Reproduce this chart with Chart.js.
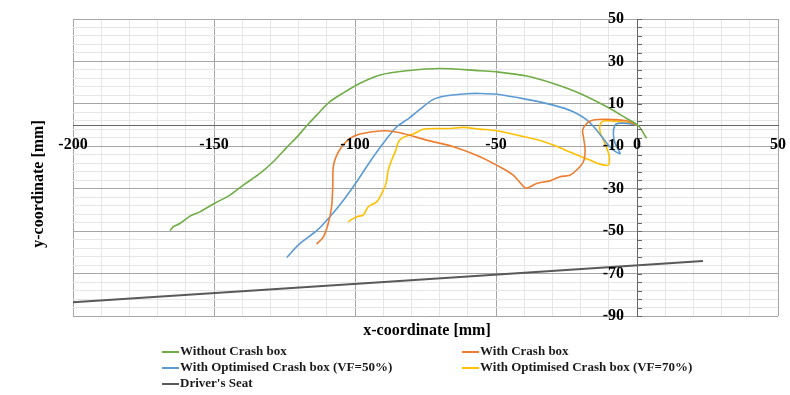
<!DOCTYPE html>
<html lang="en">
<head>
    <meta charset="UTF-8">
    <title>Head trajectory</title>
    <script src="https://cdn.jsdelivr.net/npm/chart.js"></script>
    <style>
        body {
            margin: 0;
            padding: 0;
            background: white;
        }

        .chart-box {
            width: 790px;
            height: 395px;
        }
    </style>
</head>
<body>

    <div class="chart-box">
        <canvas id="trajectoryChart"></canvas>
    </div>

    <script>
        // trajectories in mm (x, y)
        const noBoxX = [-165.6, -164.4, -162.1, -158.5, -155, -150.2, -144.3, -139.6, -133.7, -129, -124.2, -120.7, -117.1, -113.6, -108.9, -104.1, -98.2, -91.1, -81.7, -69.9, -55.7, -49.8, -39.1, -29.7, -20.2, -10.7, -3.7, 0.5, 3.4];
        const noBoxY = [-49.8, -47.9, -46.4, -42.9, -40.9, -37.2, -33, -28.3, -22.8, -17.3, -10.5, -5.8, -0.3, 4.7, 11, 15.2, 19.7, 23.6, 25.6, 26.7, 25.6, 25.1, 23.1, 19.6, 14.9, 8.6, 3.1, -0.3, -6.3];

        const boxX = [-113.6, -111.2, -109.5, -108.3, -107.9, -107.7, -106.7, -104.7, -101.8, -98.2, -90, -84, -74.6, -65.1, -55.7, -49.8, -43.9, -39.7, -37.9, -35.6, -30.9, -27.3, -23.8, -21.4, -19, -18.4, -19, -19.3, -17.8, -15.5, -10.7, -3.7, 0];
        const boxY = [-56.1, -52.7, -46.4, -38.5, -29.1, -19.7, -14.9, -10.2, -6.3, -4.2, -2.7, -3.6, -7.1, -10.2, -14.9, -18.9, -23.6, -29.6, -29.1, -27.5, -26.3, -24.4, -23.6, -21.2, -17.3, -11.8, -5.5, -2.4, 0.8, 2.4, 2.7, 2.0, 0];

        const vf50X = [-124.2, -119.5, -113.6, -108.9, -104.1, -99.4, -94.7, -90, -85.2, -81.7, -77, -72.2, -67.5, -60.4, -55.7, -49.8, -39.1, -29.7, -22.6, -17.8, -14.3, -10.7, -8.4, -6, -7.8, -8.4, -7.8, -6.6, -3.7, 0];
        const vf50Y = [-62.4, -55.8, -49.8, -43.2, -35.4, -26.7, -17.3, -8.6, -0.8, 2.4, 7.4, 12.1, 13.8, 14.8, 14.9, 14.5, 12.1, 9.4, 6.3, 2.4, -2.4, -8.6, -11.8, -13.4, -8.6, -3.9, 0, 0.8, 0.8, 0];

        const vf70X = [-102.4, -101.2, -99.4, -97.1, -95.3, -92.3, -90.5, -89, -88.2, -87, -85.5, -84.6, -82.9, -79.3, -75.8, -71, -66.3, -61.6, -55.7, -49.8, -42.7, -35.6, -29.7, -22.6, -16.7, -13.1, -10.2, -9.8, -10.7, -11.9, -13.1, -13.1, -11.9, -6, -1.3, 0];
        const vf70Y = [-45.6, -44.5, -43.2, -42.4, -38.5, -36.2, -32.2, -27.5, -21.2, -16.5, -11.8, -7.9, -5.8, -4.2, -2.0, -1.6, -1.6, -1.1, -1.9, -2.7, -4.7, -6.8, -9.4, -13.4, -16.5, -18.4, -18.9, -14.9, -11, -7.1, -3.2, 0, 1.9, 1.6, 0.8, 0];

        const seatX = [-200, 23.4];
        const seatY = [-83.5, -64.1];

        const seriesNames = ["Without Crash box", "With Crash box", "With Optimised Crash box (VF=50%)", "With Optimised Crash box (VF=70%)", "Driver's Seat"];
        const seriesColors = ["#70AD47", "#ED7D31", "#5B9BD5", "#FFC000", "#595959"];

        // labelled ticks
        const xTickLabels = [-200, -150, -100, -50, 0, 50];
        const yTickLabels = [50, 30, 10, -10, -30, -50, -70, -90];

        const fontFamily = "'Liberation Serif', 'Times New Roman', serif";

        function toPoints(xs, ys) {
            return xs.map((x, i) => ({ x: x, y: ys[i] }));
        }

        const seriesData = [
            toPoints(noBoxX, noBoxY),
            toPoints(boxX, boxY),
            toPoints(vf50X, vf50Y),
            toPoints(vf70X, vf70Y),
            toPoints(seatX, seatY)
        ];

        function isMajorX(v) {
            return xTickLabels.includes(Math.round(v));
        }

        function isMajorY(v) {
            return yTickLabels.includes(Math.round(v));
        }

        // tick labels beside the crossing axes, axis titles, small y ticks and the two-column legend
        const extrasPlugin = {
            id: "extras",
            afterDraw(chart) {
                const ctx = chart.ctx;
                const xs = chart.scales.x;
                const ys = chart.scales.y;
                const x0 = xs.getPixelForValue(0);
                const y0 = ys.getPixelForValue(0);

                ctx.save();
                ctx.strokeStyle = "#666";
                ctx.lineWidth = 1;
                ys.ticks.forEach(t => {
                    const py = Math.round(ys.getPixelForValue(t.value)) + 0.5;
                    ctx.beginPath();
                    ctx.moveTo(x0, py);
                    ctx.lineTo(x0 + 5, py);
                    ctx.stroke();
                });

                ctx.fillStyle = "#000";
                ctx.font = "bold 16px " + fontFamily;
                ctx.textBaseline = "middle";

                ctx.textAlign = "center";
                xTickLabels.forEach(v => {
                    ctx.fillText(String(v), xs.getPixelForValue(v), y0 + 20);
                });

                ctx.textAlign = "right";
                yTickLabels.forEach(v => {
                    ctx.fillText(String(v), x0 - 13, ys.getPixelForValue(v));
                });

                ctx.textAlign = "center";
                ctx.fillText("x-coordinate [mm]", 427, 331);

                ctx.save();
                ctx.translate(39, 184);
                ctx.rotate(-Math.PI / 2);
                ctx.fillText("y-coordinate [mm]", 0, 0);
                ctx.restore();

                // legend
                const cols = [162, 462];
                const rows = [352, 368, 384];
                ctx.font = "bold 13px " + fontFamily;
                ctx.textAlign = "left";
                chart.data.datasets.forEach((ds, i) => {
                    const lx = cols[i % 2];
                    const ly = rows[Math.floor(i / 2)];
                    ctx.strokeStyle = ds.borderColor;
                    ctx.lineWidth = 2;
                    ctx.beginPath();
                    ctx.moveTo(lx, ly);
                    ctx.lineTo(lx + 17, ly);
                    ctx.stroke();
                    ctx.fillStyle = "#1a1a1a";
                    ctx.fillText(ds.label, lx + 18, ly);
                });
                ctx.restore();
            }
        };

        new Chart(document.getElementById("trajectoryChart"), {
            type: "scatter",
            data: {
                datasets: seriesData.map((pts, i) => ({
                    label: seriesNames[i],
                    data: pts,
                    showLine: true,
                    borderColor: seriesColors[i],
                    backgroundColor: seriesColors[i],
                    borderWidth: i === 4 ? 2 : 1.6,
                    pointRadius: 0,
                    tension: 0.3
                }))
            },
            options: {
                responsive: true,
                maintainAspectRatio: false,
                animation: false,
                layout: {
                    padding: { left: 73, right: 12, top: 19, bottom: 79 }
                },
                plugins: {
                    legend: { display: false },
                    tooltip: { enabled: false }
                },
                scales: {
                    x: {
                        type: "linear",
                        min: -200,
                        max: 50,
                        position: { y: 0 },
                        ticks: {
                            display: false,
                            stepSize: 10,
                            maxTicksLimit: 100
                        },
                        grid: {
                            drawTicks: false,
                            color: c => isMajorX(c.tick.value) ? "#a6a6a6" : "#e6e6e6"
                        },
                        border: { color: "#666", width: 1 }
                    },
                    y: {
                        type: "linear",
                        min: -90,
                        max: 50,
                        position: { x: 0 },
                        ticks: {
                            display: false,
                            stepSize: 4,
                            maxTicksLimit: 100
                        },
                        grid: {
                            drawTicks: false,
                            color: c => isMajorY(c.tick.value) ? "#a6a6a6" : "#e6e6e6"
                        },
                        border: { color: "#666", width: 1 }
                    }
                }
            },
            plugins: [extrasPlugin]
        });
    </script>

</body>
</html>
